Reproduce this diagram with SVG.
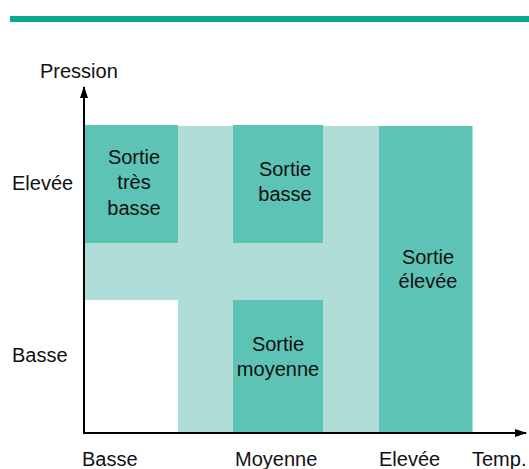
<svg xmlns="http://www.w3.org/2000/svg" width="529" height="469" viewBox="0 0 529 469">
<defs>
<style>
text{font-family:"Liberation Sans",Arial,sans-serif;font-size:20px;fill:#111}
.dark{fill:#5dc3b4}
.light{fill:#b0ddd7}
.c{text-anchor:middle}
.axis{stroke:#000;stroke-width:2;fill:none}
</style>
<marker id="arr" markerWidth="12" markerHeight="10" refX="11" refY="5" orient="auto" markerUnits="userSpaceOnUse">
<path d="M0,1 L12,5 L0,9 Z" fill="#000"/>
</marker>
</defs>
<rect x="10" y="16" width="519" height="6" fill="#0aa88f"/>
<g id="zones">
<rect class="light" x="84" y="126" width="389" height="307"/>
<rect fill="#fff" x="84" y="300" width="94" height="133"/>
</g>
<g id="node-tres-basse">
<rect class="dark" x="84" y="125" width="94" height="118"/>
<text class="c" x="134" y="164">Sortie</text>
<text class="c" x="134" y="189">très</text>
<text class="c" x="134" y="215">basse</text>
</g>
<g id="node-basse">
<rect class="dark" x="233" y="125" width="90" height="118"/>
<text class="c" x="285" y="176">Sortie</text>
<text class="c" x="285" y="201">basse</text>
</g>
<g id="node-moyenne">
<rect class="dark" x="233" y="300" width="90" height="133"/>
<text class="c" x="278" y="351">Sortie</text>
<text class="c" x="278" y="376">moyenne</text>
</g>
<g id="node-elevee">
<rect class="dark" x="379" y="126" width="93" height="307"/>
<text class="c" x="428" y="264">Sortie</text>
<text class="c" x="428" y="288">élevée</text>
</g>
<g id="connectors">
<line class="axis" x1="84" y1="434" x2="84" y2="87" marker-end="url(#arr)"/>
<line class="axis" x1="83" y1="433" x2="526" y2="433" marker-end="url(#arr)"/>
</g>
<g id="labels">
<text x="40" y="78">Pression</text>
<text x="12" y="190">Elevée</text>
<text x="12" y="362">Basse</text>
<text x="82" y="466">Basse</text>
<text x="235" y="466">Moyenne</text>
<text x="379" y="466">Elevée</text>
<text x="472" y="466">Temp.</text>
</g>
</svg>
